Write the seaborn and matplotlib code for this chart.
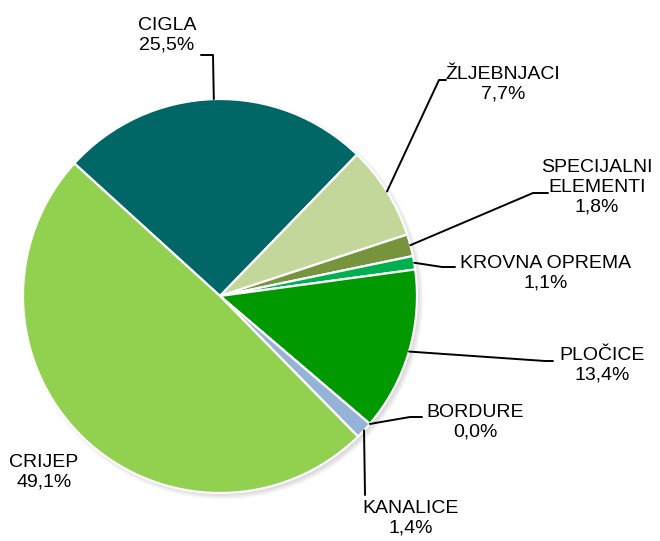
import numpy as np
import matplotlib
matplotlib.use("Agg")
import matplotlib.pyplot as plt
import seaborn as sns
from matplotlib.patches import Circle

# Data (clockwise from the CRIJEP/CIGLA boundary)
labels = ["CIGLA", "ŽLJEBNJACI", "SPECIJALNI\nELEMENTI", "KROVNA OPREMA",
          "PLOČICE", "BORDURE", "KANALICE", "CRIJEP"]
shares = [25.5, 7.7, 1.8, 1.1, 13.4, 0.0, 1.4, 49.1]
colors = ["#006666", "#C4D79B", "#77933C", "#00B050",
          "#009900", "#4F81BD", "#95B3D7", "#92D050"]

# Layout, in pixels of the 660x541 picture (y down)
W, H = 660, 541
CX, CY, R = 220, 296, 197
START = 137.7
elbows = [[(213, 55), (201, 55)],
          [(439, 80), (446, 80)],
          [(533, 193), (548, 193)],
          [(442, 267), (455, 267)],
          [(545, 361), (553, 361)],
          [(410, 417), (422, 417)],
          [(365, 495)],
          []]
text_pos = [(167, 35), (503, 84), (597, 187), (546, 273),
            (602, 365), (475, 422), (411, 518), (44, 472)]

sns.set_style("white")
plt.rcParams["font.family"] = ["Liberation Sans", "DejaVu Sans"]

fig = plt.figure(figsize=(W / 100, H / 100), dpi=100)
ax = fig.add_axes([0, 0, 1, 1])

# soft shadow
for i in range(4):
    ax.add_patch(Circle((CX + 3, H - CY - 3), R + 3 - i * 1.5,
                        color="#555555", alpha=0.06, lw=0, zorder=0))

ax.pie(shares, colors=colors, startangle=START, counterclock=False,
       center=(CX, H - CY), radius=R, frame=True,
       wedgeprops=dict(edgecolor="white", linewidth=1.6))
ax.set_xlim(0, W)
ax.set_ylim(0, H)
ax.set_aspect("equal")
ax.axis("off")

angle = START
for lab, val, elb, tp in zip(labels, shares, elbows, text_pos):
    span = val / 100 * 360
    mid = np.deg2rad(angle - span / 2)
    angle -= span
    if elb:
        px = [CX + R * np.cos(mid)] + [p[0] for p in elb]
        py = [H - CY + R * np.sin(mid)] + [H - p[1] for p in elb]
        ax.plot(px, py, color="black", lw=1.4, zorder=5)
    txt = f"{lab}\n{val:.1f}%".replace(".", ",")
    ax.text(tp[0], H - tp[1], txt, ha="center", va="center",
            fontsize=14, linespacing=1.2, color="black")

fig.savefig("out.png", dpi=100)
